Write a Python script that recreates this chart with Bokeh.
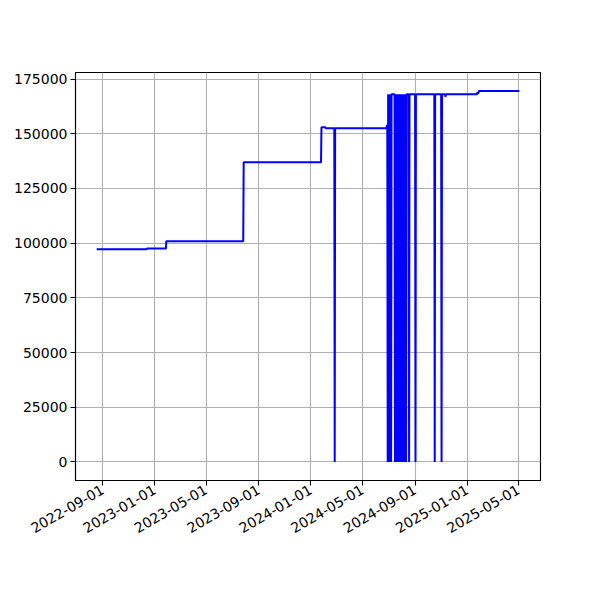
import math
import pandas as pd
from bokeh.plotting import figure
from bokeh.models import Range1d, FixedTicker, DatetimeTickFormatter, NumeralTickFormatter
from bokeh.embed import file_html
from bokeh.resources import INLINE

# ---- data ----
dates = [
    "2022-08-18", "2022-12-13", "2022-12-14", "2023-01-27", "2023-01-28",
    "2023-07-27", "2023-07-28", "2024-01-25", "2024-01-26", "2024-02-04",
    "2024-02-05", "2024-02-25", "2024-02-26", "2024-02-27", "2024-06-26",
    "2024-06-27", "2024-06-28", "2024-06-29", "2024-06-30", "2024-07-01",
    "2024-07-02", "2024-07-03", "2024-07-04", "2024-07-05", "2024-07-06",
    "2024-07-07", "2024-07-08", "2024-07-15",
    "2024-07-16", "2024-07-17", "2024-07-18", "2024-07-19", "2024-07-20",
    "2024-07-21", "2024-07-22", "2024-07-23", "2024-07-24", "2024-07-25",
    "2024-07-26", "2024-07-27", "2024-07-28", "2024-07-29", "2024-07-30",
    "2024-07-31", "2024-08-01", "2024-08-02", "2024-08-03", "2024-08-04",
    "2024-08-05", "2024-08-06", "2024-08-07", "2024-08-08", "2024-08-09",
    "2024-08-10", "2024-08-11", "2024-08-12",
    "2024-08-17", "2024-08-18", "2024-08-19",
    "2024-09-01", "2024-09-02", "2024-09-03",
    "2024-10-16", "2024-10-17", "2024-10-18",
    "2024-11-01", "2024-11-02", "2024-11-03",
    "2024-11-10", "2024-11-11", "2024-11-12",
    "2025-01-24", "2025-01-25", "2025-01-27", "2025-01-28", "2025-05-03",
]
values = [
    97200, 97200, 97500, 97500, 100900,
    100900, 137000, 137000, 153000, 153000,
    152500, 152500, 0, 152500, 152500,
    153800, 153800, 0, 168000, 0,
    168000, 0, 168000, 0, 168000,
    0, 168000, 168000,
    0, 168000, 0, 168000, 0,
    168000, 0, 168000, 0, 168000,
    0, 168000, 0, 168000, 0,
    168000, 0, 168000, 0, 168000,
    0, 168000, 0, 168000, 0,
    168000, 0, 168000,
    168000, 0, 168000,
    168000, 0, 168000,
    168000, 0, 168000,
    168000, 0, 168000,
    168000, 166800, 168000,
    168000, 169000, 168300, 169500, 169500,
]
x_tick_labels = ["2022-09-01", "2023-01-01", "2023-05-01", "2023-09-01",
                 "2024-01-01", "2024-05-01", "2024-09-01", "2025-01-01",
                 "2025-05-01"]
y_ticks = [0, 25000, 50000, 75000, 100000, 125000, 150000, 175000]

x = pd.to_datetime(dates)
xmin, xmax = x.min(), x.max()
xpad = (xmax - xmin) * 0.05
ymin, ymax = min(values), max(values)
ypad = (ymax - ymin) * 0.05

p = figure(width=584, height=584, x_axis_type="datetime",
           output_backend="svg", toolbar_location=None,
           x_range=Range1d(xmin - xpad, xmax + xpad),
           y_range=Range1d(ymin - ypad, ymax + ypad),
           min_border_left=75, min_border_right=44,
           min_border_top=72, min_border_bottom=104)

p.line(x, values, line_color="#0000ff", line_width=2)

tick_ms = [pd.Timestamp(t).value / 1e6 for t in x_tick_labels]
p.xaxis.ticker = FixedTicker(ticks=tick_ms)
fmt = "%Y-%m-%d"
p.xaxis.formatter = DatetimeTickFormatter(milliseconds=fmt, seconds=fmt, minsec=fmt,
                                          minutes=fmt, hourmin=fmt, hours=fmt,
                                          days=fmt, months=fmt, years=fmt)
p.xaxis.major_label_orientation = math.pi / 6
p.yaxis.ticker = FixedTicker(ticks=y_ticks)
p.yaxis.formatter = NumeralTickFormatter(format="0")

for ax in (p.xaxis, p.yaxis):
    ax.major_label_text_font = "DejaVu Sans"
    ax.major_label_text_font_size = "14px"
    ax.major_label_text_color = "#000000"
    ax.axis_line_color = "#000000"
    ax.axis_line_width = 1.1
    ax.major_tick_line_color = "#000000"
    ax.major_tick_line_width = 1.1
    ax.major_tick_in = 0
    ax.major_tick_out = 5
    ax.minor_tick_line_color = None
    ax.major_label_standoff = 3

p.grid.grid_line_color = "#b0b0b0"
p.grid.grid_line_width = 1.1
p.grid.grid_line_alpha = 1.0
p.outline_line_color = "#000000"
p.outline_line_width = 1.1
p.outline_line_alpha = 1.0
p.background_fill_color = "#ffffff"
p.border_fill_color = "#ffffff"

open("out.html", "w").write(file_html(p, INLINE))
